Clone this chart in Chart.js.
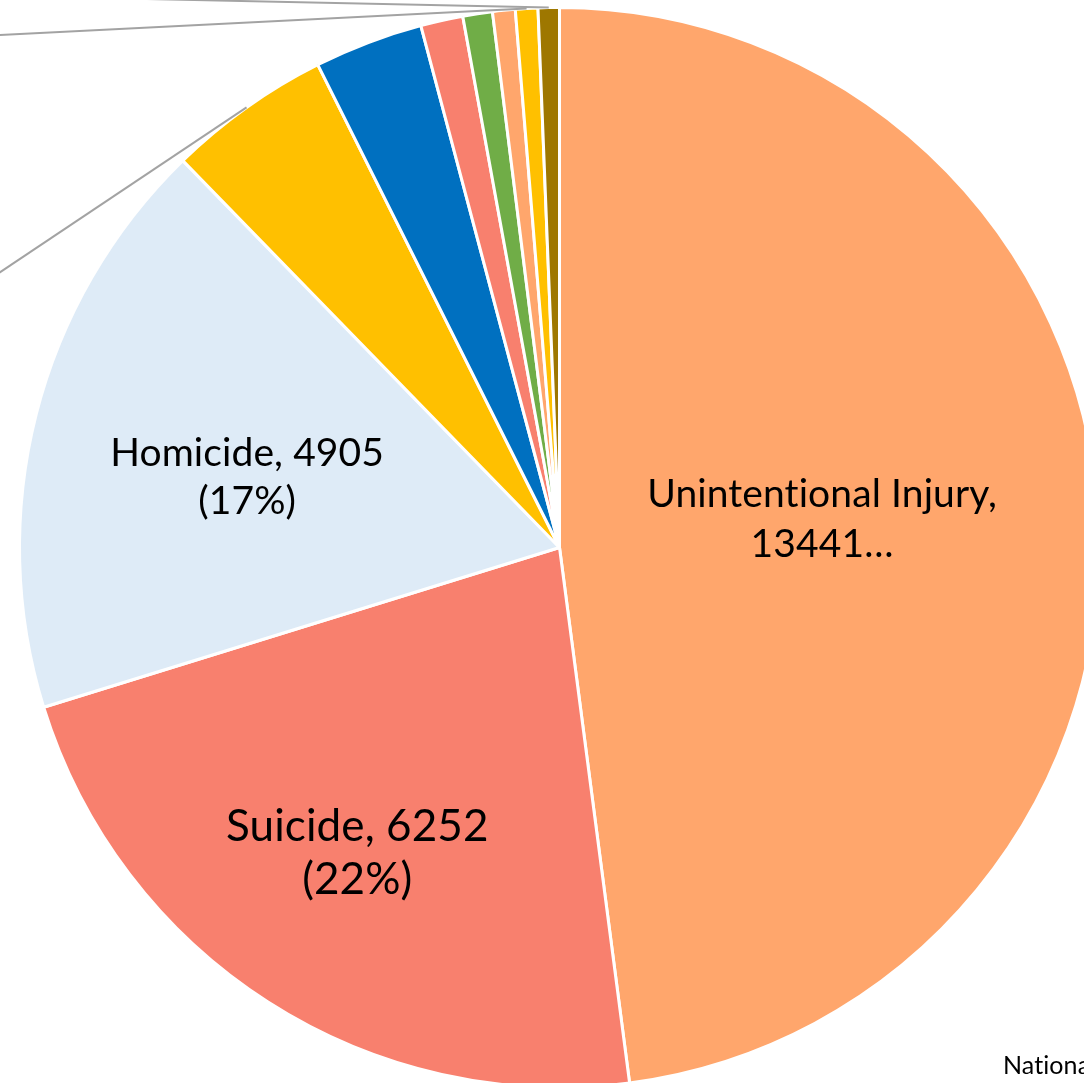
<!DOCTYPE html>
<html>
<head>
<meta charset="utf-8">
<title>Leading Causes of Death</title>
<script src="https://cdn.jsdelivr.net/npm/chart.js@4.4.1/dist/chart.umd.min.js"></script>
<style>
    html, body { margin: 0; padding: 0; background: #ffffff; overflow: hidden; }
    #causeChart { display: block; }
</style>
</head>
<body>
<canvas id="causeChart" width="1130" height="1110"></canvas>
<script>
// Leading causes of death, counts per cause
const causes = [
    'Unintentional Injury',
    'Suicide',
    'Homicide',
    'Malignant Neoplasms',
    'Heart Disease',
    'Congenital Anomalies',
    'Diabetes Mellitus',
    'Influenza & Pneumonia',
    'Chronic Low. Respiratory Disease',
    'Complicated Pregnancy'
];
const deaths = [13441, 6252, 4905, 1374, 913, 355, 248, 190, 188, 178];
const sliceColors = [
    '#FFA66C', '#F8806E', '#DEEBF7', '#FFC000', '#0070C0',
    '#F8806E', '#70AD47', '#FFA66C', '#FFC000', '#9E7700'
];
// Percent shown under the big-slice labels
const percentText = ['', '(22%)', '(17%)', '', '', '', '', '', '', ''];

// Inside labels: slice index, radius fraction, angle nudge (deg), font size, line gap
const insideLabels = [
    { index: 0, lines: [causes[0] + ',', deaths[0] + '…'], r: 0.489, nudge: -2.4, size: 39, gap: 50 },
    { index: 1, lines: [causes[1] + ', ' + deaths[1], percentText[1]], r: 0.679, nudge: 0.8, size: 44, gap: 53 },
    { index: 2, lines: [causes[2] + ', ' + deaths[2], percentText[2]], r: 0.593, nudge: -1.6, size: 39, gap: 48 }
];

// Leader lines running out to labels that sit beyond the left edge
const leaderLines = [
    { index: 3, to: [-40, 299] },
    { index: 8, to: [-40, 37] },
    { index: 9, to: [-40, -5] }
];

const pieLabels = {
    id: 'pieLabels',
    afterDatasetsDraw(chart) {
        const ctx = chart.ctx;
        const arcs = chart.getDatasetMeta(0).data;

        // leader lines from the outer edge of each small slice
        ctx.save();
        ctx.strokeStyle = '#A3A3A3';
        ctx.lineWidth = 2;
        leaderLines.forEach(function (l) {
            const arc = arcs[l.index];
            const mid = (arc.startAngle + arc.endAngle) / 2;
            const x0 = arc.x + Math.cos(mid) * arc.outerRadius;
            const y0 = arc.y + Math.sin(mid) * arc.outerRadius;
            ctx.beginPath();
            ctx.moveTo(x0, y0);
            ctx.lineTo(l.to[0], l.to[1]);
            ctx.stroke();
        });
        ctx.restore();

        // labels inside the three large slices
        ctx.save();
        ctx.fillStyle = '#000000';
        ctx.textAlign = 'center';
        ctx.textBaseline = 'middle';
        ctx.letterSpacing = '0.1px'; // keeps "ti" from joining into a ligature
        insideLabels.forEach(function (lab) {
            const arc = arcs[lab.index];
            const mid = (arc.startAngle + arc.endAngle) / 2 + lab.nudge * Math.PI / 180;
            const cx = arc.x + Math.cos(mid) * arc.outerRadius * lab.r;
            const cy = arc.y + Math.sin(mid) * arc.outerRadius * lab.r;
            ctx.font = lab.size + "px Lato, 'Open Sans', sans-serif";
            ctx.fillText(lab.lines[0], cx, cy - lab.gap / 2);
            ctx.fillText(lab.lines[1], cx, cy + lab.gap / 2);
        });

        // source note, runs off the right edge
        ctx.textAlign = 'left';
        ctx.textBaseline = 'alphabetic';
        ctx.font = "25px Lato, 'Open Sans', sans-serif";
        ctx.fillText('National Center for Health Statistics', 1003, 1074);
        ctx.restore();
    }
};

document.addEventListener('DOMContentLoaded', function () {
    const canvas = document.getElementById('causeChart');

    new Chart(canvas.getContext('2d'), {
        type: 'pie',
        data: {
            labels: causes,
            datasets: [{
                data: deaths,
                backgroundColor: sliceColors,
                borderColor: '#ffffff',
                borderWidth: 3
            }]
        },
        options: {
            responsive: false,
            animation: false,
            layout: {
                padding: { left: 18, top: 6, right: 29, bottom: 21 }
            },
            plugins: {
                legend: { display: false },
                tooltip: { enabled: false }
            }
        },
        plugins: [pieLabels]
    });
});
</script>
</body>
</html>
